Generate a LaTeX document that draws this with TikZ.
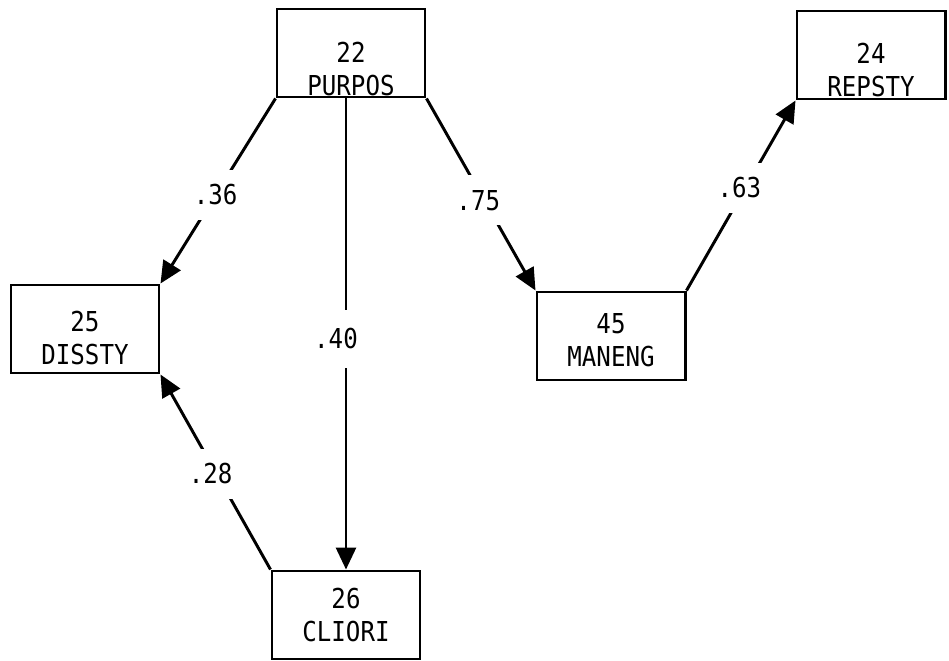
\documentclass[tikz,border=0pt]{standalone}
\usepackage{fontspec}
\setmainfont{DejaVu Sans Mono}[FakeStretch=0.88]
\usetikzlibrary{arrows.meta}

\begin{document}
\begin{tikzpicture}
[
	x=0.025cm, y=-0.025cm,
	var/.style={draw,line width=2.1pt,minimum width=3.7cm,minimum height=2.2cm,inner sep=0pt},
	vartext/.style={align=center,font=\fontsize{19.5}{23.5}\selectfont},
	effect/.style={line width=2.1pt,-{Triangle[length=0.55cm,width=0.5cm]}},
	coef/.style={fill=white,inner xsep=1pt,inner ysep=0pt,minimum height=1.25cm,font=\fontsize{19.5}{21}\selectfont}
]
	\useasboundingbox (0,0) rectangle (949,660);

	% variables
	\node[var,label={[vartext,yshift=-0.4cm]center:{22\\PURPOS}}] at (351,53) (purpos) {};
	\node[var,label={[vartext,yshift=-0.38cm]center:{24\\REPSTY}}] at (871,55) (repsty) {};
	\node[var,label={[vartext,yshift=-0.22cm]center:{25\\DISSTY}}] at (85,329) (dissty) {};
	\node[var,label={[vartext,yshift=-0.1cm]center:{45\\MANENG}}] at (611,336) (maneng) {};
	\node[var,label={[vartext]center:{26\\CLIORI}}] at (346,615) (cliori) {};

	% paths
	\draw[effect] (purpos.south west) -- node[coef,pos=0.52] {.36} (dissty.north east);
	\draw[effect] (purpos.south -| cliori.north) -- node[coef,pos=0.51,xshift=-0.25cm,minimum height=1.45cm] {.40} (cliori.north);
	\draw[effect] (purpos.south east) -- node[coef,pos=0.53,xshift=-0.15cm] {.75} (maneng.north west);
	\draw[effect] (maneng.north east) -- node[coef,pos=0.54,xshift=-0.15cm] {.63} (repsty.south west);
	\draw[effect] (cliori.north west) -- node[coef,pos=0.49,xshift=-0.15cm] {.28} (dissty.south east);

\end{tikzpicture}
\end{document}
